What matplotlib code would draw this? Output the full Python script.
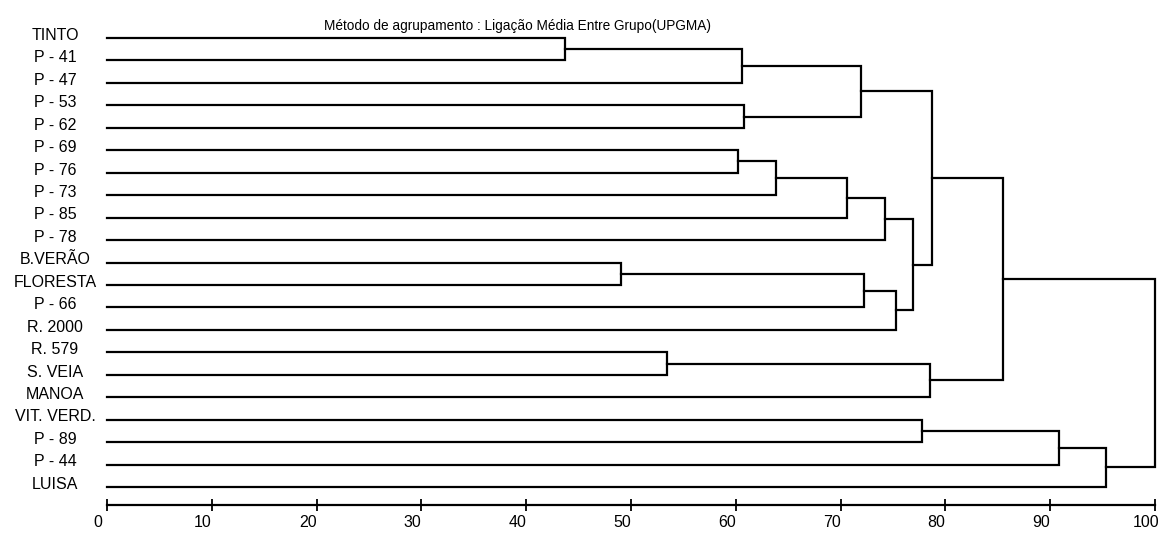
import matplotlib
matplotlib.use("Agg")
import matplotlib.pyplot as plt
import matplotlib.transforms as mtransforms

plt.rcParams['font.family'] = ['Liberation Sans Narrow', 'Liberation Sans', 'DejaVu Sans']

# leaf labels, top to bottom
labels = ["TINTO", "P - 41", "P - 47", "P - 53", "P - 62", "P - 69", "P - 76",
          "P - 73", "P - 85", "P - 78", "B.VERÃO", "FLORESTA", "P - 66", "R. 2000",
          "R. 579", "S. VEIA", "MANOA", "VIT. VERD.", "P - 89", "P - 44", "LUISA"]

# merges: (left, right) ids (leaf index or 21 + merge number) and linkage height
merge_left = [0, 10, 14, 5, 21, 3, 24, 27, 25, 22, 28, 30, 31, 17, 23, 29, 36, 34, 38, 37]
merge_right = [1, 11, 15, 6, 2, 4, 7, 8, 26, 12, 9, 13, 32, 18, 16, 33, 35, 19, 20, 39]
merge_height = [43.7, 49.0, 53.4, 60.2, 60.6, 60.8, 63.8, 70.6, 71.9, 72.2, 74.2,
                75.3, 76.9, 77.8, 78.5, 78.7, 85.5, 90.8, 95.3, 100.0]

title = "Método de agrupamento : Ligação Média Entre Grupo(UPGMA)"

W, H = 1165, 533
fig = plt.figure(figsize=(W / 100, H / 100), dpi=100)
# axes: x 0..100 spans px 107..1155, bottom spine at px 505
top_px = 30
ax = fig.add_axes([107 / W, (H - 505) / H, (1155 - 107) / W, (505 - top_px) / H])

n = len(labels)
step = 22.45  # px between leaves
first_leaf = 38
ax.set_xlim(0, 100)
ax.set_ylim((505 - first_leaf) / step, (top_px - first_leaf) / step)

lw = 1.6
nodes = {i: (0.0, float(i)) for i in range(n)}
for k, (a, b, h) in enumerate(zip(merge_left, merge_right, merge_height)):
    xa, ya = nodes[a]
    xb, yb = nodes[b]
    ax.plot([xa, h, h, xb], [ya, ya, yb, yb], color="black", lw=lw,
            solid_joinstyle="miter", clip_on=False)
    nodes[n + k] = (h, (ya + yb) / 2)

# leaf labels, centred at about px 55, a little above their line
lab_x = (55 - 107) / 10.48
for i, lab in enumerate(labels):
    ax.text(lab_x, i - 0.12, lab, ha="center", va="center", fontsize=11.5, clip_on=False)

for s in ["top", "left", "right"]:
    ax.spines[s].set_visible(False)
ax.spines["bottom"].set_linewidth(lw)
ax.set_yticks([])
ax.set_xticks(range(0, 101, 10))
ax.tick_params(axis="x", direction="inout", length=9, width=1.3, pad=3, labelsize=11.5)
# tick labels sit a bit left of their ticks in the reference
shift = mtransforms.ScaledTranslation(-9 / 100, 0, fig.dpi_scale_trans)
for lbl in ax.get_xticklabels():
    lbl.set_transform(lbl.get_transform() + shift)

fig.text(517 / W, 1 - 26 / H, title, ha="center", va="center", fontsize=9.8)

fig.savefig("out.png", dpi=100)
